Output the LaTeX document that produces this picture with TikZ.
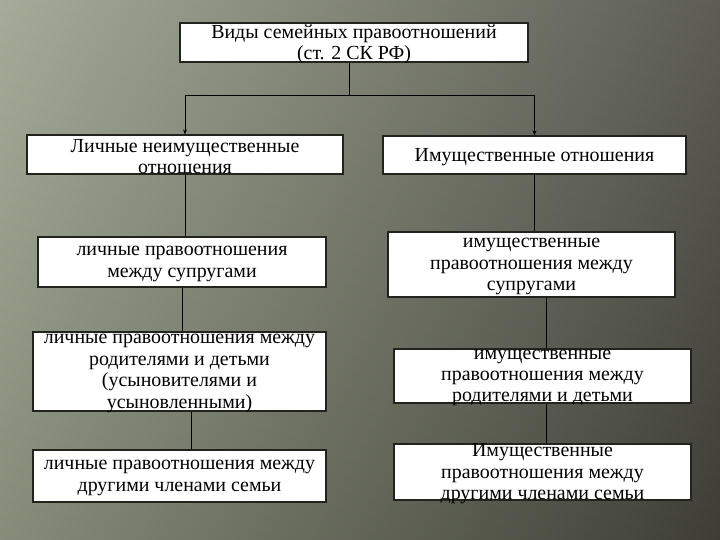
\documentclass[tikz,border=0pt]{standalone}
\usepackage{fontspec}
\setmainfont{Liberation Serif}
\usetikzlibrary{arrows.meta}
\definecolor{BgLight}{HTML}{98A08A}
\definecolor{BgDark}{HTML}{47473E}
\definecolor{BoxLine}{HTML}{23231E}
\tikzset{
  famBox/.style={draw=BoxLine, fill=white, line width=1.2bp, inner sep=0pt},
  famLink/.style={draw=black, line width=0.9bp},
}
\newcommand{\famText}[3]{\parbox[c][#2bp][c]{#1bp}{\centering\vspace*{4bp}\fontsize{20}{21.5}\selectfont #3}}

\begin{document}
\begin{tikzpicture}[x=1bp,y=-1bp]
\path[use as bounding box] (0,0) rectangle (720,540);
\shade[left color=BgLight,right color=BgDark] (0,0) rectangle (720,540);
\shade[top color=white,bottom color=black,opacity=0.12] (0,0) rectangle (720,540);
% top box
\node[famBox] (kinds) at (354,42.5) {\famText{348}{39}{Виды семейных правоотношений\\(ст. 2 СК РФ)}};
% left column
\node[famBox] (pers) at (185,154.5) {\famText{316}{39}{Личные неимущественные\\отношения}};
\node[famBox] (persA) at (182,262) {\famText{288}{50}{личные правоотношения\\между супругами}};
\node[famBox] (persB) at (179.5,371.5) {\famText{293}{79}{личные правоотношения между\\родителями и детьми\\(усыновителями и\\усыновленными)}};
\node[famBox] (persC) at (179.5,476) {\famText{293}{52}{личные правоотношения между\\другими членами семьи}};
% right column
\node[famBox] (prop) at (534.5,155) {\famText{303}{38}{Имущественные отношения}};
\node[famBox] (propA) at (531.5,264.5) {\famText{287}{65}{имущественные\\правоотношения между\\супругами}};
\node[famBox] (propB) at (542.5,376) {\famText{297}{54}{имущественные\\правоотношения между\\родителями и детьми}};
\node[famBox] (propC) at (542.5,472) {\famText{297}{56}{Имущественные\\правоотношения между\\другими членами семьи}};
% connectors
\coordinate (split) at (349,95);
\draw[famLink] (kinds.south -| split) -- (split);
\draw[famLink,-{Stealth[length=5bp,width=4bp]}] (split) -| (pers.north);
\draw[famLink,-{Stealth[length=5bp,width=4bp]}] (split) -| (prop.north);
\draw[famLink] (pers.south) -- (pers.south |- persA.north);
\draw[famLink] (persA.south) -- (persA.south |- persB.north);
\draw[famLink] ([xshift=12bp]persB.south) -- ([xshift=12bp]persB.south |- persC.north);
\draw[famLink] (prop.south) -- (prop.south |- propA.north);
\draw[famLink] ([xshift=4bp]propB.north) -- ([xshift=4bp]propB.north |- propA.south);
\draw[famLink] ([xshift=4bp]propB.south) -- ([xshift=4bp]propB.south |- propC.north);
\end{tikzpicture}
\end{document}
